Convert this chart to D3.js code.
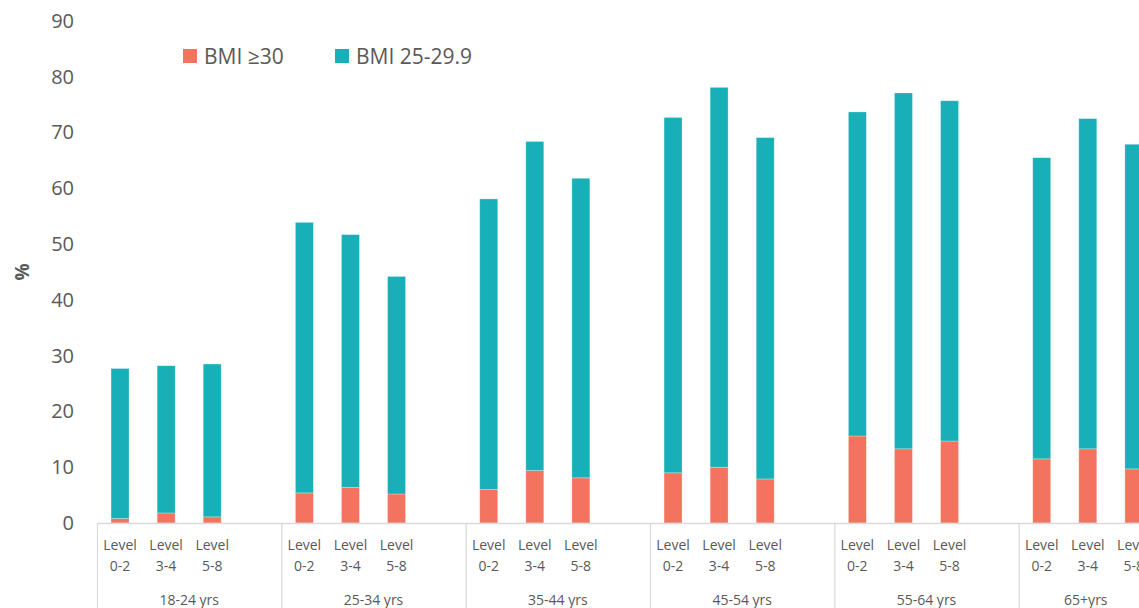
<!DOCTYPE html>
<html>
<head>
<meta charset="utf-8">
<script src="https://cdn.jsdelivr.net/npm/d3@7"></script>
<style>
  body { margin: 0; background: #fff; }
  svg { display: block; font-family: "Open Sans", "Noto Sans", sans-serif; }
</style>
</head>
<body>
<div id="chart"></div>
<script>
const ageGroups = ['18-24 yrs', '25-34 yrs', '35-44 yrs', '45-54 yrs', '55-64 yrs', '65+yrs'];
const levels = ['Level 0-2', 'Level 3-4', 'Level 5-8'];

// BMI >=30, by age group then level
const obese = [
    [0.8, 1.8, 1.1],
    [5.4, 6.4, 5.2],
    [6.0, 9.4, 8.1],
    [9.0, 10.0, 7.9],
    [15.6, 13.3, 14.7],
    [11.5, 13.3, 9.7]
];
// BMI 25-29.9
const overweight = [
    [26.9, 26.4, 27.4],
    [48.5, 45.3, 39.0],
    [52.1, 59.0, 53.7],
    [63.7, 68.1, 61.2],
    [58.1, 63.8, 61.0],
    [54.0, 59.2, 58.2]
];
const yTicks = [0, 10, 20, 30, 40, 50, 60, 70, 80, 90];
const seriesNames = ['BMI \u226530', 'BMI 25-29.9'];
const colors = ['#f4735f', '#17afb8'];

const W = 1139, H = 608;
const svg = d3.select('#chart').append('svg').attr('width', W).attr('height', H);

const x0 = 97, x1 = 1203;
const y = d3.scaleLinear().domain([0, 90]).range([523, 21]);
const xGroup = d3.scaleBand().domain(ageGroups).range([x0, x1]);
const xLevel = d3.scaleBand().domain(levels.concat(['blank']))
    .range([0, xGroup.bandwidth()]).paddingInner(0.61).paddingOuter(0.305);

const textColor = '#595959';
const lineColor = '#d9d9d9';

// y axis labels (no axis line)
const yAxis = svg.append('g')
    .attr('transform', 'translate(80,0)')
    .call(d3.axisLeft(y).tickValues(yTicks).tickSize(0).tickPadding(6));
yAxis.select('.domain').remove();
yAxis.selectAll('text').attr('fill', textColor).attr('font-size', 20)
    .attr('font-family', '"Open Sans", sans-serif');

svg.append('text')
    .attr('transform', 'translate(29,272) rotate(-90)')
    .attr('text-anchor', 'middle')
    .attr('font-size', 19).attr('font-weight', 'bold')
    .attr('fill', textColor)
    .text('%');

// bars
ageGroups.forEach((g, gi) => {
    levels.forEach((lv, li) => {
        const bx = xGroup(g) + xLevel(lv);
        const a = obese[gi][li], b = overweight[gi][li];
        svg.append('rect')
            .attr('x', bx).attr('width', xLevel.bandwidth())
            .attr('y', y(a)).attr('height', y(0) - y(a))
            .attr('fill', colors[0]).attr('stroke', '#fff').attr('stroke-opacity', 0.35).attr('stroke-width', 0.8);
        svg.append('rect')
            .attr('x', bx).attr('width', xLevel.bandwidth())
            .attr('y', y(a + b)).attr('height', y(a) - y(a + b))
            .attr('fill', colors[1]).attr('stroke', '#fff').attr('stroke-opacity', 0.35).attr('stroke-width', 0.8);
    });
});

// x axis line and group separators
svg.append('line')
    .attr('x1', x0).attr('x2', x1).attr('y1', y(0) + 0.5).attr('y2', y(0) + 0.5)
    .attr('stroke', lineColor).attr('stroke-width', 1.5);
svg.selectAll('.sep').data(ageGroups.concat(['end']))
    .enter().append('line')
    .attr('x1', (d, i) => x0 + i * xGroup.step() + 0.5)
    .attr('x2', (d, i) => x0 + i * xGroup.step() + 0.5)
    .attr('y1', y(0)).attr('y2', H)
    .attr('stroke', lineColor).attr('stroke-width', 1.2);

// level labels
ageGroups.forEach(g => {
    levels.forEach(lv => {
        const cx = xGroup(g) + xLevel(lv) + xLevel.bandwidth() / 2;
        const parts = lv.split(' ');
        const t = svg.append('text')
            .attr('text-anchor', 'middle')
            .attr('font-size', 14).attr('fill', textColor);
        t.append('tspan').attr('x', cx).attr('y', 550).text(parts[0]);
        t.append('tspan').attr('x', cx).attr('y', 571).text(parts[1]);
    });
    // group label centred in the visible part of its group
    const gx0 = xGroup(g), gx1 = Math.min(gx0 + xGroup.bandwidth(), W + 14);
    svg.append('text')
        .attr('x', (gx0 + gx1) / 2).attr('y', 605)
        .attr('text-anchor', 'middle')
        .attr('font-size', 14).attr('fill', textColor)
        .text(g);
});

// legend
const legend = svg.append('g');
const legendX = [183, 335];
seriesNames.forEach((name, i) => {
    legend.append('rect')
        .attr('x', legendX[i]).attr('y', 49).attr('width', 14).attr('height', 14)
        .attr('fill', colors[i]);
    legend.append('text')
        .attr('x', legendX[i] + 21).attr('y', 63.5)
        .attr('font-size', 21).attr('fill', textColor)
        .text(name);
});
</script>
</body>
</html>
